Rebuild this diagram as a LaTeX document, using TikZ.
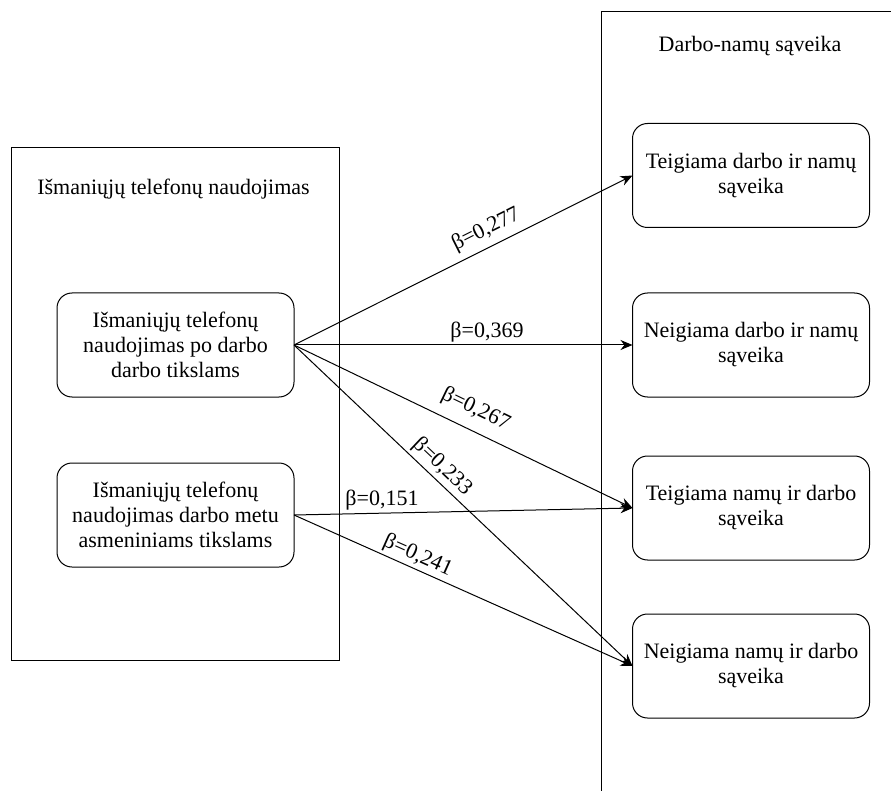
\documentclass[tikz,border=0pt]{standalone}
\usepackage{fontspec}
\setmainfont{Liberation Serif}
\usetikzlibrary{arrows.meta}
\begin{document}
\begin{tikzpicture}[x=1pt,y=-1pt,
  every node/.style={font=\fontsize{22}{25}\selectfont, text=black},
  inbox/.style={draw, rounded corners=15pt, line width=1pt, minimum width=237pt, minimum height=104pt, align=center, inner sep=0pt, outer sep=0pt},
  frame/.style={draw, line width=1pt},
  link/.style={line width=1pt, -{Stealth[length=12pt,width=10pt]}},
  lbl/.style={sloped, inner sep=2pt}]
\useasboundingbox (0,0) rectangle (891,791);
% containers
\draw[frame] (11,148) rectangle (339,660);
\draw[frame] (601,791) -- (601,12) -- (891,12);
\node[anchor=base] (ltitle) at (173.5,195) {Išmaniųjų telefonų naudojimas};
\node[anchor=base] (rtitle) at (750,52) {Darbo-namų sąveika};
% left nodes
\node[inbox] (l1) at (175.5,345) {Išmaniųjų telefonų\\naudojimas po darbo\\darbo tikslams};
\node[inbox] (l2) at (175.5,515) {Išmaniųjų telefonų\\naudojimas darbo metu\\asmeniniams tikslams};
% right nodes
\node[inbox] (t1) at (751,175.5) {Teigiama darbo ir namų\\sąveika};
\node[inbox] (n1) at (751,345) {Neigiama darbo ir namų\\sąveika};
\node[inbox] (t2) at (751,508) {Teigiama namų ir darbo\\sąveika};
\node[inbox] (n2) at (751,666) {Neigiama namų ir darbo\\sąveika};
% links
\draw[link] (l1.east) -- node[lbl, pos=0.59, above=4.5pt] {β=0,277} (t1.west);
\draw[link] (l1.east) -- node[lbl, pos=0.57, above=0.5pt] {β=0,369} (n1.west);
\draw[link] (l1.east) -- node[lbl, pos=0.51, above=8pt] {β=0,267} (t2.west);
\draw[link] (l1.east) -- node[lbl, pos=0.41, above=1pt] {β=0,233} (n2.west);
\draw[link] (l2.east) -- node[inner sep=2pt, pos=0.26, above=0pt] {β=0,151} (t2.west);
\draw[link] (l2.east) -- node[lbl, pos=0.35, above=0.5pt] {β=0,241} (n2.west);
\end{tikzpicture}
\end{document}
